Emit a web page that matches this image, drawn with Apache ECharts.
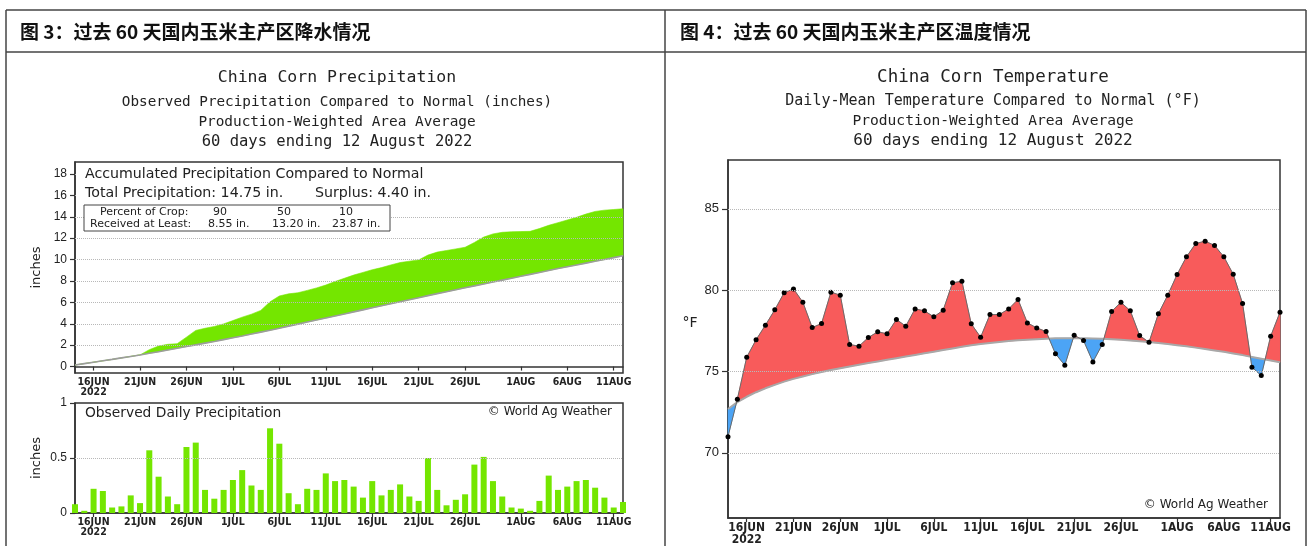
<!DOCTYPE html>
<html>
<head>
<meta charset="utf-8">
<script src="https://cdn.jsdelivr.net/npm/echarts@6/dist/echarts.min.js"></script>
<style>
  html, body { margin: 0; padding: 0; background: #fff; }
  #chart { width: 1309px; height: 546px; }
</style>
</head>
<body>
<div id="chart"></div>
<script>
// 60 days: 14 June - 12 August 2022
const days = [
  '14JUN','15JUN','16JUN','17JUN','18JUN','19JUN','20JUN','21JUN','22JUN','23JUN',
  '24JUN','25JUN','26JUN','27JUN','28JUN','29JUN','30JUN','1JUL','2JUL','3JUL',
  '4JUL','5JUL','6JUL','7JUL','8JUL','9JUL','10JUL','11JUL','12JUL','13JUL',
  '14JUL','15JUL','16JUL','17JUL','18JUL','19JUL','20JUL','21JUL','22JUL','23JUL',
  '24JUL','25JUL','26JUL','27JUL','28JUL','29JUL','30JUL','31JUL','1AUG','2AUG',
  '3AUG','4AUG','5AUG','6AUG','7AUG','8AUG','9AUG','10AUG','11AUG','12AUG'
];
const dateTicks = ['16JUN','21JUN','26JUN','1JUL','6JUL','11JUL','16JUL','21JUL','26JUL','1AUG','6AUG','11AUG'];
const yearLabel = '2022';

// precipitation, inches
const dailyPrecip = [
  0.08, 0.02, 0.22, 0.20, 0.05, 0.06, 0.16, 0.09, 0.57, 0.33,
  0.15, 0.08, 0.60, 0.64, 0.21, 0.13, 0.21, 0.30, 0.39, 0.25,
  0.21, 0.77, 0.63, 0.18, 0.08, 0.22, 0.21, 0.36, 0.29, 0.30,
  0.24, 0.14, 0.29, 0.16, 0.21, 0.26, 0.15, 0.11, 0.50, 0.21,
  0.07, 0.12, 0.17, 0.44, 0.51, 0.29, 0.15, 0.05, 0.04, 0.02,
  0.11, 0.34, 0.21, 0.24, 0.29, 0.30, 0.23, 0.14, 0.05, 0.10
];
const accumPrecip = [
  0.15, 0.28, 0.41, 0.54, 0.67, 0.81, 0.95, 1.09, 1.58, 1.92,
  2.08, 2.14, 2.75, 3.38, 3.58, 3.75, 3.99, 4.30, 4.62, 4.90,
  5.25, 6.05, 6.60, 6.80, 6.90, 7.12, 7.35, 7.62, 7.95, 8.25,
  8.55, 8.80, 9.05, 9.25, 9.50, 9.72, 9.85, 9.97, 10.42, 10.70,
  10.85, 11.00, 11.15, 11.60, 12.10, 12.40, 12.55, 12.60, 12.62, 12.64,
  12.90, 13.20, 13.45, 13.70, 13.95, 14.25, 14.50, 14.62, 14.68, 14.75
];
const normalPrecip = [
  0.15, 0.28, 0.41, 0.54, 0.67, 0.81, 0.95, 1.09, 1.24, 1.39,
  1.55, 1.71, 1.87, 2.03, 2.19, 2.35, 2.52, 2.69, 2.86, 3.04,
  3.22, 3.40, 3.59, 3.78, 3.97, 4.16, 4.35, 4.54, 4.73, 4.92,
  5.11, 5.30, 5.49, 5.68, 5.87, 6.06, 6.25, 6.44, 6.63, 6.82,
  7.00, 7.18, 7.36, 7.54, 7.72, 7.90, 8.08, 8.26, 8.44, 8.62,
  8.80, 8.98, 9.16, 9.33, 9.50, 9.67, 9.84, 10.01, 10.18, 10.35
];
const accumTicks = [0, 2, 4, 6, 8, 10, 12, 14, 16, 18];
const dailyTicks = [0, 0.5, 1];

// daily mean temperature, °F
const tempObserved = [
  71.00, 73.30, 75.88, 76.95, 77.85, 78.79, 79.84, 80.08, 79.26, 77.70,
  77.95, 79.88, 79.69, 76.66, 76.56, 77.09, 77.44, 77.32, 78.20, 77.79,
  78.85, 78.73, 78.36, 78.77, 80.45, 80.55, 77.93, 77.11, 78.50, 78.50,
  78.85, 79.43, 77.99, 77.68, 77.46, 76.09, 75.39, 77.23, 76.91, 75.59,
  76.66, 78.69, 79.26, 78.73, 77.21, 76.80, 78.55, 79.69, 80.96, 82.05,
  82.87, 83.01, 82.75, 82.05, 80.98, 79.18, 75.27, 74.75, 77.17, 78.65
];
const tempNormal = [
  72.70, 73.12, 73.45, 73.73, 73.97, 74.18, 74.38, 74.55, 74.70, 74.84,
  74.97, 75.09, 75.20, 75.31, 75.42, 75.52, 75.62, 75.72, 75.82, 75.92,
  76.02, 76.12, 76.22, 76.32, 76.42, 76.52, 76.61, 76.69, 76.76, 76.82,
  76.87, 76.92, 76.96, 76.99, 77.02, 77.04, 77.05, 77.05, 77.04, 77.03,
  77.01, 76.98, 76.95, 76.91, 76.86, 76.81, 76.75, 76.69, 76.62, 76.55,
  76.47, 76.39, 76.30, 76.21, 76.11, 76.01, 75.90, 75.79, 75.68, 75.57
];
const tempTicks = [70, 75, 80, 85];

const GREEN = '#74e600';
const RED = '#f85b5b';
const BLUE = '#4ca4f5';
const INK = '#222';
const FRAME = '#333';
const MONO = "'DejaVu Sans Mono', monospace";
const SANS = "'DejaVu Sans', sans-serif";
const NUM = "'Liberation Sans', Arial, sans-serif";
const NARROW = "'Liberation Sans Narrow', 'DejaVu Sans Condensed', sans-serif";
const CJK = "'Noto Sans CJK SC', sans-serif";

// fills the area between an upper and a lower curve, split where they cross
function bandRenderer(top, base, posColor, negColor) {
  return function (params, api) {
    const T = top.map((v, i) => api.coord([i, v]));
    const B = base.map((v, i) => api.coord([i, v]));
    const verts = [];
    for (let i = 0; i < T.length; i++) {
      verts.push({ t: T[i], b: B[i], cross: false });
      if (i < T.length - 1) {
        const d0 = B[i][1] - T[i][1];
        const d1 = B[i + 1][1] - T[i + 1][1];
        if (d0 * d1 < 0) {
          const f = d0 / (d0 - d1);
          const p = [T[i][0] + f * (T[i + 1][0] - T[i][0]), T[i][1] + f * (T[i + 1][1] - T[i][1])];
          verts.push({ t: p, b: p, cross: true });
        }
      }
    }
    const runs = [];
    let run = [verts[0]];
    for (let k = 1; k < verts.length; k++) {
      run.push(verts[k]);
      if (verts[k].cross) { runs.push(run); run = [verts[k]]; }
    }
    runs.push(run);
    const children = [];
    runs.forEach(r => {
      let s = 0;
      r.forEach(v => { s += v.b[1] - v.t[1]; });
      const color = s > 0 ? posColor : negColor;
      if (!color || Math.abs(s) < 1e-6) return;
      const pts = r.map(v => v.t).concat(r.slice().reverse().map(v => v.b));
      children.push({ type: 'polygon', shape: { points: pts }, style: { fill: color, stroke: color, lineWidth: 0.6 } });
    });
    return { type: 'group', children: children };
  };
}

const isDateTick = (i, v) => dateTicks.indexOf(v) >= 0;
const dateFmt = v => (v === dateTicks[0] ? v + '\n' + yearLabel : v);

function dateAxis(gridIndex, size) {
  return {
    type: 'category', gridIndex: gridIndex, data: days, boundaryGap: false,
    axisLine: { show: true, lineStyle: { color: FRAME, width: 1.5 } },
    axisTick: { show: true, interval: isDateTick, length: 4, lineStyle: { color: FRAME, width: 1.2 } },
    axisLabel: {
      interval: isDateTick, formatter: dateFmt, margin: 4,
      fontFamily: NARROW, fontWeight: 'bold', fontSize: size, lineHeight: size, color: INK
    },
    splitLine: { show: false }
  };
}

function valueAxis(gridIndex, min, max, ticks, name, labelSize, tickLen) {
  const axis = {
    type: 'value', gridIndex: gridIndex, min: min, max: max,
    axisLine: { show: true, lineStyle: { color: FRAME, width: 1.5 } },
    axisTick: { show: true, customValues: ticks, length: tickLen, lineStyle: { color: FRAME, width: 1.2 } },
    axisLabel: { customValues: ticks, margin: tickLen + 3, fontFamily: NUM, fontSize: labelSize, color: INK },
    splitLine: { show: false }
  };
  if (name) {
    Object.assign(axis, {
      name: name, nameLocation: 'middle', nameGap: 32, nameRotate: 90,
      nameTextStyle: { fontFamily: SANS, fontSize: 13, color: INK }
    });
  }
  return axis;
}

// dotted reference lines at the labelled values
function gridMarks(ticks) {
  return {
    silent: true, symbol: 'none', animation: false,
    label: { show: false },
    lineStyle: { type: 'dotted', color: '#b8b8b8', width: 1 },
    data: ticks.map(v => ({ yAxis: v }))
  };
}

function text(x, y, str, size, family, align, styleExtra) {
  return {
    type: 'text', z: 60,
    style: Object.assign({
      x: x, y: y, text: str, fontSize: size, fontFamily: family,
      fill: INK, textAlign: align || 'left', textVerticalAlign: 'middle'
    }, styleExtra || {})
  };
}
function rule(x1, y1, x2, y2) {
  return { type: 'line', z: 60, shape: { x1: x1, y1: y1, x2: x2, y2: y2 }, style: { stroke: '#444', lineWidth: 1.5 } };
}

const chart = echarts.init(document.getElementById('chart'), null, { renderer: 'canvas' });

const gridFrame = { show: true, borderColor: FRAME, borderWidth: 1.5, backgroundColor: 'transparent' };

chart.setOption({
  animation: false,
  backgroundColor: '#fff',
  grid: [
    Object.assign({ left: 75, top: 162, width: 548, height: 211 }, gridFrame),
    Object.assign({ left: 75, top: 403, width: 548, height: 110 }, gridFrame),
    Object.assign({ left: 728, top: 160, width: 552, height: 358 }, gridFrame)
  ],
  xAxis: [dateAxis(0, 10.5), dateAxis(1, 10.5), dateAxis(2, 12)],
  yAxis: [
    valueAxis(0, -0.6, 19.12, accumTicks, 'inches', 12, 5),
    valueAxis(1, 0, 1, dailyTicks, 'inches', 12, 5),
    valueAxis(2, 66, 88, tempTicks, null, 13, 6)
  ],
  series: [
    // accumulated precipitation against normal
    { type: 'line', xAxisIndex: 0, yAxisIndex: 0, data: [], z: 0, markLine: gridMarks(accumTicks.filter(v => v > 0)) },
    {
      type: 'custom', xAxisIndex: 0, yAxisIndex: 0, z: 1, silent: true,
      data: [[0, normalPrecip[0]]],
      renderItem: bandRenderer(accumPrecip, normalPrecip, GREEN, null)
    },
    {
      type: 'line', xAxisIndex: 0, yAxisIndex: 0, data: normalPrecip, z: 3,
      symbol: 'none', lineStyle: { color: '#9c9c9c', width: 1.6 }
    },
    // daily precipitation
    { type: 'line', xAxisIndex: 1, yAxisIndex: 1, data: [], z: 0, markLine: gridMarks([0.5]) },
    {
      type: 'bar', xAxisIndex: 1, yAxisIndex: 1, data: dailyPrecip, barWidth: 6, z: 2,
      itemStyle: { color: GREEN }
    },
    // daily mean temperature against normal
    { type: 'line', xAxisIndex: 2, yAxisIndex: 2, data: [], z: 0, markLine: gridMarks(tempTicks) },
    {
      type: 'custom', xAxisIndex: 2, yAxisIndex: 2, z: 1, silent: true,
      data: [[0, tempNormal[0]]],
      renderItem: bandRenderer(tempObserved, tempNormal, RED, BLUE)
    },
    {
      type: 'line', xAxisIndex: 2, yAxisIndex: 2, data: tempNormal, z: 3,
      symbol: 'none', lineStyle: { color: '#a8a8a8', width: 2 }
    },
    {
      type: 'line', xAxisIndex: 2, yAxisIndex: 2, data: tempObserved, z: 4,
      symbol: 'circle', symbolSize: 5,
      itemStyle: { color: '#000' },
      lineStyle: { color: '#6a6a6a', width: 1 }
    }
  ],
  graphic: [
    // table frame and captions
    rule(6, 10, 1306, 10), rule(6, 52, 1306, 52),
    rule(6, 10, 6, 546), rule(665, 10, 665, 546), rule(1306, 10, 1306, 546),
    text(20, 32, '图 3：过去 60 天国内玉米主产区降水情况', 19, CJK, 'left', { fontWeight: 'bold', fill: '#111' }),
    text(680, 32, '图 4：过去 60 天国内玉米主产区温度情况', 19, CJK, 'left', { fontWeight: 'bold', fill: '#111' }),

    // precipitation titles
    text(337, 78, 'China Corn Precipitation', 16.5, MONO, 'center'),
    text(337, 102, 'Observed Precipitation Compared to Normal (inches)', 14.3, MONO, 'center'),
    text(337, 122, 'Production-Weighted Area Average', 14.4, MONO, 'center'),
    text(337, 142, '60 days ending 12 August 2022', 15.5, MONO, 'center'),

    // precipitation summary block
    { type: 'rect', z: 50, shape: { x: 76, y: 163, width: 546, height: 41 }, style: { fill: '#fff' } },
    { type: 'rect', z: 55, shape: { x: 84, y: 205, width: 306, height: 26 }, style: { fill: '#fff', stroke: '#444', lineWidth: 1 } },
    text(85, 174, 'Accumulated Precipitation Compared to Normal', 14.2, SANS),
    text(85, 193, 'Total Precipitation: 14.75 in.', 14.2, SANS),
    text(315, 193, 'Surplus: 4.40 in.', 14.2, SANS),
    text(100, 212, 'Percent of Crop:', 11, SANS),
    text(220, 212, '90', 11, SANS, 'center'),
    text(284, 212, '50', 11, SANS, 'center'),
    text(346, 212, '10', 11, SANS, 'center'),
    text(90, 224, 'Received at Least:', 11, SANS),
    text(208, 224, '8.55 in.', 11, SANS),
    text(272, 224, '13.20 in.', 11, SANS),
    text(332, 224, '23.87 in.', 11, SANS),
    text(85, 413, 'Observed Daily Precipitation', 13.8, SANS),
    text(612, 412, '© World Ag Weather', 12, SANS, 'right'),

    // temperature titles
    text(993, 77, 'China Corn Temperature', 17.5, MONO, 'center'),
    text(993, 101, 'Daily-Mean Temperature Compared to Normal (°F)', 15, MONO, 'center'),
    text(993, 121, 'Production-Weighted Area Average', 14.6, MONO, 'center'),
    text(993, 141, '60 days ending 12 August 2022', 16, MONO, 'center'),
    text(690, 323, '°F', 14, SANS, 'center'),
    text(1268, 505, '© World Ag Weather', 12, SANS, 'right')
  ]
});
</script>
</body>
</html>
